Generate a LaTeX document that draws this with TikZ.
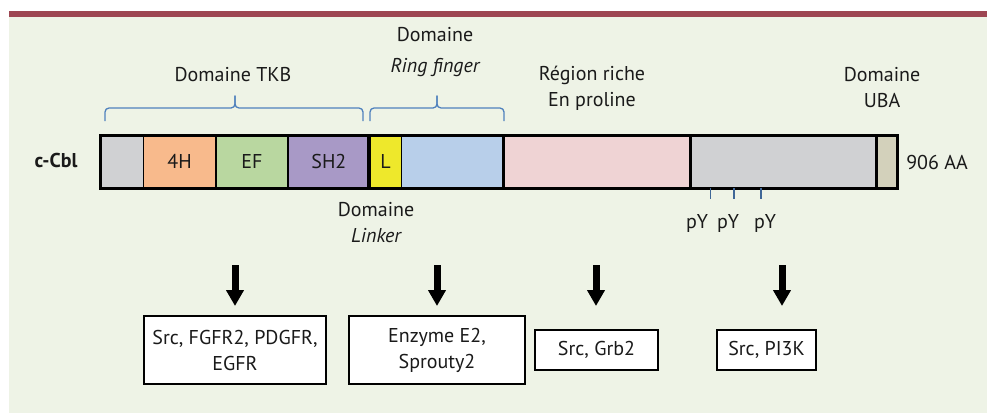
\documentclass[tikz,border=0pt]{standalone}
\usepackage{fontspec}
\setmainfont{PT Sans}
\usetikzlibrary{arrows.meta}
\definecolor{bgc}{HTML}{EEF3E6}
\definecolor{barred}{HTML}{9D4652}
\definecolor{cgray}{HTML}{D0D1D3}
\definecolor{corange}{HTML}{F8BA8C}
\definecolor{cgreen}{HTML}{B9D7A0}
\definecolor{cpurple}{HTML}{A899C6}
\definecolor{cyellow}{HTML}{EEE82B}
\definecolor{cblue}{HTML}{B8CFEA}
\definecolor{cpink}{HTML}{EFD3D4}
\definecolor{ctan}{HTML}{D3D1BB}
\definecolor{brc}{HTML}{4F81BD}
\definecolor{txt}{HTML}{1A1A1A}
\begin{document}
\begin{tikzpicture}[x=1pt,y=-1pt,
  every node/.style={text=txt,font=\fontsize{20}{26}\selectfont},
  seg/.style={draw=black,line width=1.8pt,anchor=north west,minimum height=51.5pt,inner sep=0pt},
  lbl/.style={inner sep=0pt,align=center},
  resbox/.style={draw=black,line width=1.8pt,fill=white,align=center,inner sep=0pt},
  bigarrow/.style={line width=7pt,-{Triangle[width=17pt,length=16pt]}},
  bracestyle/.style={draw=brc,line width=1.3pt,rounded corners=4pt},
  tick/.style={draw=brc!80!black,line width=1.3pt}]
\useasboundingbox (0,0) rectangle (987,413);
\fill[white] (0,0) rectangle (987,413);
\fill[bgc] (9,16.5) rectangle (987,413);
\fill[barred] (9,11) rectangle (987,16.5);

% protein bar segments
\node[seg,fill=cgray,minimum width=42.5pt] (s0) at (100,135) {};
\node[seg,fill=corange,minimum width=72.5pt] (s1) at (142.5,135) {};
\node[seg,fill=cgreen,minimum width=72pt] (s2) at (215,135) {};
\node[seg,fill=cpurple,minimum width=82pt] (s3) at (287,135) {};
\node[seg,fill=cyellow,minimum width=31.5pt] (s4) at (369,135) {};
\node[seg,fill=cblue,minimum width=103pt] (s5) at (400.5,135) {};
\node[seg,fill=cpink,minimum width=187pt] (s6) at (503.5,135) {};
\node[seg,fill=cgray,minimum width=186pt] (s7) at (690.5,135) {};
\node[seg,fill=ctan,minimum width=19.5pt] (s8) at (876.5,135) {};
% thick separators and outline
\draw[line width=3.2pt] (s4.north west) -- (s4.south west);
\draw[line width=3.2pt] (s6.north west) -- (s6.south west);
\draw[line width=3.2pt] (s7.north west) -- (s7.south west);
\draw[line width=3.2pt] (s8.north west) -- (s8.south west);
\draw[line width=2.8pt] (s0.north west) rectangle (s8.south east);

\node[lbl] at (s1.center) {4H};
\node[lbl] at (s2.center) {EF};
\node[lbl] at (s3.center) {SH2};
\node[lbl] at (s4.center) {L};
\node[lbl,font=\fontsize{20}{26}\selectfont\bfseries] (cbl) at (56,160) {c-Cbl};
\node[lbl] (aa) at (937,162) {906 AA};

% braces
\draw[bracestyle] (105,121) -- (105,108) -- (235,108) -- (235,95.5);
\draw[bracestyle] (235,95.5) -- (235,108) -- (363,108) -- (363,121);
\draw[bracestyle] (370,121) -- (370,108) -- (437,108) -- (437,95.5);
\draw[bracestyle] (437,95.5) -- (437,108) -- (504,108) -- (504,121);

% domain labels
\node[lbl,font=\fontsize{20}{31}\selectfont] (ring) at (435,52) {Domaine\\\itshape Ring finger};
\node[lbl] (tkb) at (233,75) {Domaine TKB};
\node[lbl] (pro) at (592,88) {Région riche\\En proline};
\node[lbl] (uba) at (882,88) {Domaine\\UBA};
\node[lbl] (link) at (376,223) {Domaine\\\itshape Linker};

% pY
\draw[tick] (710.7,188) -- (710.7,199);
\draw[tick] (734,188) -- (734,199);
\draw[tick] (761,188) -- (761,199);
\node[lbl] (py1) at (697,223) {pY};
\node[lbl] (py2) at (728,223) {pY};
\node[lbl] (py3) at (765,223) {pY};

% result boxes
\node[resbox,minimum width=182pt,minimum height=68pt] (b1) at (235,350) {Src, FGFR2, PDGFR,\\EGFR};
\node[resbox,minimum width=176pt,minimum height=68pt] (b2) at (437,350) {Enzyme E2,\\Sprouty2};
\node[resbox,minimum width=123pt,minimum height=40pt] (b3) at (596.5,350) {Src, Grb2};
\node[resbox,minimum width=99pt,minimum height=40pt] (b4) at (766.5,350) {Src, PI3K};

% arrows
\coordinate (a1s) at (235,265); \coordinate (a1e) at (235,306);
\coordinate (a2s) at (437,265); \coordinate (a2e) at (437,306);
\coordinate (a3s) at (596,265); \coordinate (a3e) at (596,306);
\coordinate (a4s) at (782,265); \coordinate (a4e) at (782,306);
\draw[bigarrow] (a1s) -- (a1e);
\draw[bigarrow] (a2s) -- (a2e);
\draw[bigarrow] (a3s) -- (a3e);
\draw[bigarrow] (a4s) -- (a4e);
\end{tikzpicture}
\end{document}
